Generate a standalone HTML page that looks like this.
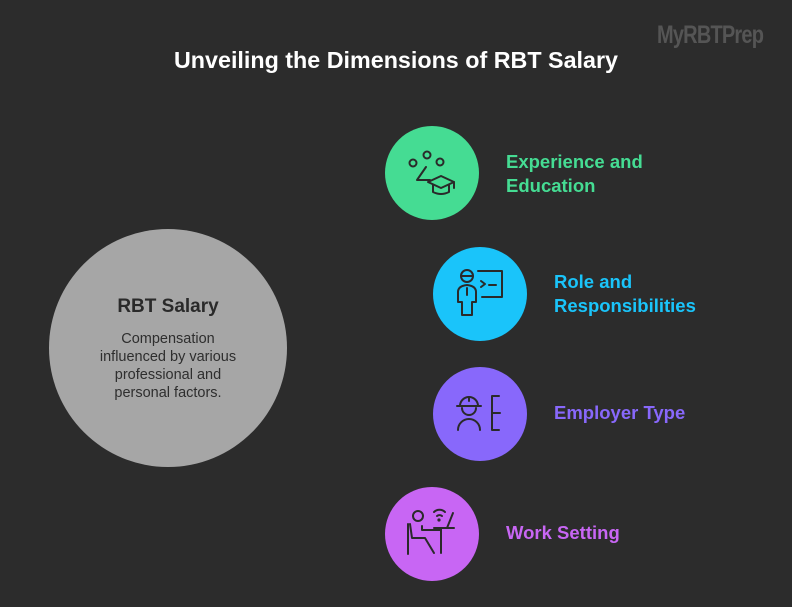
<!DOCTYPE html>
<html><head><style>
body{margin:0;width:792px;height:607px;background:#2c2c2c;font-family:"Liberation Sans",sans-serif;overflow:hidden;position:relative}
.t{position:absolute;font-weight:bold}
</style></head><body>
<div class="t" style="left:0;width:792px;top:47px;text-align:center;color:#fff;font-size:23.3px">Unveiling the Dimensions of RBT Salary</div>
<div class="t" style="left:657px;top:21px;color:#555;font-size:25px;letter-spacing:-1px;transform:scaleX(.8);transform-origin:left">MyRBTPrep</div>
<svg width="792" height="607" style="position:absolute;left:0;top:0" fill="none" stroke="#2a2a2a" stroke-width="2" stroke-linecap="round" stroke-linejoin="round">
<circle cx="168" cy="348" r="119" fill="#a6a6a6" stroke="none"/>
<circle cx="432" cy="173" r="47" fill="#45dc93" stroke="none"/>
<circle cx="480" cy="294" r="47" fill="#1ac4fa" stroke="none"/>
<circle cx="480" cy="414" r="47" fill="#8868fb" stroke="none"/>
<circle cx="432" cy="534" r="47" fill="#c866f4" stroke="none"/>
<circle cx="413" cy="163" r="3.5"/><circle cx="427" cy="155" r="3.5"/><circle cx="440" cy="162" r="3.5"/>
<path d="M426 167 L417 180 L430 180"/><path d="M428 182 L441 176 L454 182 L441 188 Z"/><path d="M433 185 v7 q8 4 16 0 v-7"/><path d="M454 182 v6"/>
<circle cx="467" cy="276" r="6"/><path d="M461 276 h12"/><path d="M458 302 v-10 q0-6 9-7 q9 1 9 7 v10 h-4 v13 h-10 v-13 z"/><path d="M467 288 v7"/><path d="M478 271 h24 v26 h-20"/><path d="M481 281 l4 3 l-4 3"/><path d="M489 285 h7"/>
<path d="M460 406 a9 9 0 0 1 18 0 h3 h-24"/><path d="M469 397 v4"/><path d="M462 408 a7 7 0 0 0 14 0"/><path d="M458 430 a11 11 0 0 1 22 0"/><path d="M499 396 h-7 v34 h7"/><path d="M492 413 h8"/>
<circle cx="418" cy="516" r="5"/><path d="M410 524 l2 14 h13 l9 15"/><path d="M408 524 v30"/><path d="M422 526 v4 h18"/><path d="M434 528 h20"/><path d="M441 528 v25"/><path d="M447 528 l6 -15"/><path d="M434 512 a8 8 0 0 1 11 0 M437 516 a4 4 0 0 1 5 0"/><circle cx="439" cy="520" r="0.6" fill="#2a2a2a"/>
</svg>
<div class="t" style="left:0;width:336px;top:296px;text-align:center;color:#2a2a2a;font-size:19px">RBT Salary</div>
<div style="position:absolute;left:88px;width:160px;top:330px;text-align:center;color:#2e2e2e;font-size:14.5px;line-height:18px">Compensation influenced by various professional and personal factors.</div>
<div class="t" style="left:506px;top:150px;color:#45dc93;font-size:18.5px;line-height:24px">Experience and<br>Education</div>
<div class="t" style="left:554px;top:270px;color:#1ac4fa;font-size:18.5px;line-height:24px">Role and<br>Responsibilities</div>
<div class="t" style="left:554px;top:402px;color:#8868fb;font-size:18.5px">Employer Type</div>
<div class="t" style="left:506px;top:522px;color:#c866f4;font-size:18.5px">Work Setting</div>
</body></html>
